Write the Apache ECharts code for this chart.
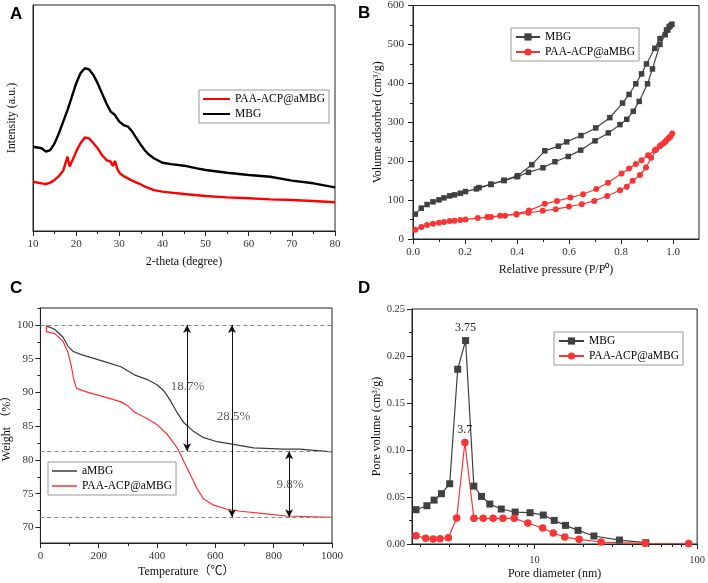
<!DOCTYPE html>
<html><head><meta charset="utf-8">
<script src="https://cdn.jsdelivr.net/npm/echarts@6/dist/echarts.min.js"></script>
<style>html,body{margin:0;padding:0;background:#fff}#c{width:708px;height:583px}</style>
</head><body><div id="c"></div>
<script>
// ---------- Panel A : XRD ----------
const aMbgX = [10,12,13,14,15,16,17,18,19,20,21,22,23,24,25,26,27,28,29,30,31,32,33,34,35,36,37,38,40,42,45,48,50,55,60,65,70,75,80];
const aMbgY = [37.3,36.6,35.1,35.8,38.8,43.2,48.4,53.5,59.4,65.3,69.8,72.0,71.5,69.0,65.3,60.9,56.5,52.8,51.3,48.4,46.9,46.2,44.0,41.0,38.1,35.5,33.6,32.2,30.2,29.6,28.9,27.7,27.0,25.8,24.8,24.0,22.3,21.1,19.3];
const aPaaX = [10,12,13,14,15,16,17,18,18.5,19,20,21,22,23,24,25,26,27,28,28.5,29,29.5,30,31,32,33,34,35,36,38,40,42,45,50,55,60,65,70,75,80];
const aPaaY = [21.8,21.1,20.8,21.4,22.6,24.3,26.7,32.9,28.5,30.7,35.1,38.8,41.4,41.0,38.8,36.6,33.6,31.4,30.7,28.8,31.0,27.7,25.8,24.3,23.3,22.3,21.4,20.6,19.6,18.1,17.4,17.0,16.4,15.5,14.9,14.5,14.0,13.7,13.3,12.7];
const aXTicks = [10,20,30,40,50,60,70,80];
const aXMinor = [15,25,35,45,55,65,75];

// ---------- Panel B : N2 isotherms ----------
const bMbgP = [0.009,0.032,0.054,0.077,0.100,0.119,0.141,0.160,0.182,0.202,0.244,0.300,0.350,0.400,0.444,0.500,0.546,0.597,0.645,0.700,0.751,0.796,0.822,0.847,0.870,0.902,0.921,0.950,0.970,0.980,0.990,0.996,
               0.985,0.975,0.950,0.930,0.898,0.879,0.857,0.831,0.806,0.757,0.703,0.646,0.591,0.559,0.507,0.457,0.403,0.350,0.300,0.254];
const bMbgV = [63.9,79.3,88.6,95.5,100.6,105.7,110.8,113.4,117.6,121.9,128.7,140.0,150.0,160.0,171.3,183.0,198.5,212.0,228.3,252.2,272.6,293.9,307.5,328.0,353.6,398.8,437.0,500.0,525.0,537.0,548.0,552.0,
               545.0,537.0,515.0,490.0,449.9,424.3,398.8,371.4,349.3,311.8,285.4,265.8,249.6,238.5,226.6,190.9,162.8,151.0,141.0,132.1];
const bPaaP = [0.009,0.032,0.054,0.077,0.100,0.119,0.141,0.160,0.182,0.202,0.249,0.300,0.354,0.398,0.444,0.499,0.549,0.600,0.649,0.697,0.747,0.796,0.822,0.845,0.873,0.896,0.916,0.935,0.953,0.970,0.982,0.991,0.997,
               0.985,0.974,0.962,0.949,0.930,0.904,0.879,0.857,0.831,0.802,0.750,0.705,0.654,0.605,0.554,0.507,0.446,0.398,0.335,0.286];
const bPaaV = [23.9,30.7,35.8,39.2,41.8,43.5,46.0,46.9,48.6,50.3,53.7,56.3,59.7,63.1,67.5,72.3,76.6,83.4,89.3,97.9,110.6,125.1,134.5,149.8,164.3,183.9,208.6,229.9,241.0,249.5,258.0,264.0,270.8,
               260.5,253.7,245.2,238.4,228.2,215.4,202.6,192.4,181.3,168.6,144.7,128.5,114.9,106.4,97.9,90.3,73.0,64.5,59.7,56.3];
const bXTicks = [0,0.2,0.4,0.6,0.8,1.0];
const bXMinor = [0.1,0.3,0.5,0.7,0.9];
const bYTicks = [0,100,200,300,400,500,600];
const bYMinor = [50,150,250,350,450,550];

// ---------- Panel C : TGA ----------
const cMbgT = [20,49,77,94,111,140,163,231,276,322,367,401,424,447,469,492,526,560,606,662,731,833,890,1000];
const cMbgW = [99.85,99.35,98.2,96.9,96.1,95.6,95.3,94.4,93.8,92.6,91.9,91.1,90.2,88.7,87.0,85.5,84.2,83.3,82.7,82.3,81.8,81.6,81.6,81.2];
const cPaaT = [20,21,49,77,94,106,115,124,163,231,276,300,322,367,401,435,469,503,538,560,594,640,685,776,844,1000];
const cPaaW = [99.9,99.0,98.7,97.6,96.0,93.9,91.8,90.6,90.0,89.2,88.6,88.0,87.1,86.1,85.2,83.8,81.8,78.8,75.7,74.2,73.3,72.7,72.4,72.0,71.7,71.5];
const cRefLevels = [100,81.3,71.5];
const cArrowX = [503,657,853];
const cArrowFrom = [100,100,81.3];
const cArrowTo = [81.3,71.5,71.5];
const cLabelText = ['18.7%','28.5%','9.8%'];
const cLabelX = [505,662,856];
const cLabelY = [90.9,86.4,76.4];
const cXTicks = [0,200,400,600,800,1000];
const cXMinor = [100,300,500,700,900];
const cYTicks = [70,75,80,85,90,95,100];
const cYMinor = [67.5,72.5,77.5,82.5,87.5,92.5,97.5,102.5];

// ---------- Panel D : pore size distribution ----------
const dMbgD = [1.873,2.185,2.42,2.685,3.018,3.378,3.778,4.246,4.73,5.32,6.26,7.62,9.41,11.34,13.24,15.53,18.55,23.22,33.3,48.4];
const dMbgV = [0.0365,0.0407,0.0467,0.0535,0.0641,0.1859,0.2164,0.0616,0.0506,0.0425,0.0372,0.0340,0.0333,0.0308,0.0251,0.0198,0.0145,0.0085,0.0042,0.0014];
const dPaaD = [1.873,2.15,2.39,2.63,2.96,3.33,3.74,4.25,4.85,5.58,6.41,7.52,9.11,11.24,13.06,15.37,18.82,25.7,47.9,88.8];
const dPaaV = [0.0089,0.0060,0.0053,0.0057,0.0067,0.0276,0.108,0.0273,0.0273,0.0273,0.0273,0.0273,0.0223,0.0170,0.0117,0.0074,0.0050,0.0021,0.0007,0.0004];
const dPeakLabels = ['3.75','3.7'];
const dXTicks = [10,100];
const dXMinor = [2,3,4,5,6,7,8,9,20,30,40,50,60,70,80,90];
const dYTicks = [0,0.05,0.10,0.15,0.20,0.25];
const dYMinor = [0.025,0.075,0.125,0.175,0.225];

// ---------- styling helpers ----------
const SERIF = 'Liberation Serif, Times New Roman, serif';
const SERIF_CJK = 'Liberation Serif, Noto Sans CJK SC, serif';
const AX = '#222';
const GRAY = '#404040', RED = '#f73535';
const zip = (xs, ys) => xs.map((x, i) => [x, ys[i]]);

function mainAxis(o) {
  return {
    type: 'value', gridIndex: o.grid, min: o.min, max: o.max, position: o.pos,
    axisLine: { show: o.line !== false, onZero: false, lineStyle: { color: AX, width: 1 } },
    axisTick: { show: true, inside: false, length: 5, customValues: o.majors, lineStyle: { color: AX } },
    axisLabel: { show: true, customValues: o.majors, formatter: o.fmt, fontFamily: SERIF, fontSize: o.fs || 11, color: '#333', margin: o.margin },
    splitLine: { show: false }, minorTick: { show: false },
    name: o.name, nameLocation: 'middle', nameGap: o.gap,
    nameTextStyle: { fontFamily: o.nameFont || SERIF, fontSize: 12, color: '#111' }
  };
}
function minorAxis(o) {
  return {
    type: 'value', gridIndex: o.grid, min: o.min, max: o.max, position: o.pos,
    axisLine: { show: false, onZero: false },
    axisTick: { show: true, inside: false, length: 3, customValues: o.minors, lineStyle: { color: AX } },
    axisLabel: { show: false }, splitLine: { show: false }
  };
}
const gridBox = (l, t, w, h) => ({ left: l, top: t, width: w, height: h, show: true, borderColor: AX, borderWidth: 1, backgroundColor: 'transparent', containLabel: false });
const legendBase = (l, t, names, extra) => Object.assign({
  left: l, top: t, orient: 'vertical', data: names, selectedMode: false,
  formatter: n => n.split('#')[0], padding: [3, 4, 3, 4], itemGap: 3,
  borderColor: '#999', borderWidth: 1, backgroundColor: '#fff',
  textStyle: { fontFamily: SERIF, fontSize: 11.5, color: '#000' }
}, extra);

const dLogMin = 1.77;

const xAxis = [
  mainAxis({ grid: 0, min: 10, max: 80, pos: 'bottom', majors: aXTicks, fmt: v => String(v), margin: 8, name: '2-theta (degree)', gap: 25 }),
  minorAxis({ grid: 0, min: 10, max: 80, pos: 'bottom', minors: aXMinor }),
  mainAxis({ grid: 1, min: 0, max: 1.1, pos: 'bottom', majors: bXTicks, fmt: v => v.toFixed(1), margin: 8, name: 'Relative pressure (P/P\u2070)', gap: 25 }),
  minorAxis({ grid: 1, min: 0, max: 1.1, pos: 'bottom', minors: bXMinor }),
  mainAxis({ grid: 2, min: 0, max: 1000, pos: 'bottom', majors: cXTicks, fmt: v => String(v), margin: 8, name: 'Temperature（℃）', gap: 23, nameFont: SERIF_CJK }),
  minorAxis({ grid: 2, min: 0, max: 1000, pos: 'bottom', minors: cXMinor }),
  { type: 'log', logBase: 10, gridIndex: 3, min: dLogMin, max: 100, position: 'bottom',
    axisLine: { show: true, onZero: false, lineStyle: { color: AX, width: 1 } },
    axisTick: { show: false }, axisLabel: { show: false }, splitLine: { show: false },
    minorTick: { show: false }, minorSplitLine: { show: false } },
  Object.assign(mainAxis({ grid: 3, min: Math.log10(dLogMin), max: 2, pos: 'bottom', majors: dXTicks.map(Math.log10),
    fmt: v => String(Math.round(Math.pow(10, v))), margin: 11, fs: 10.5, name: 'Pore diameter (nm)', gap: 24, line: false })),
  minorAxis({ grid: 3, min: Math.log10(dLogMin), max: 2, pos: 'bottom', minors: dXMinor.map(Math.log10) })
];

const yAxis = [
  { type: 'value', gridIndex: 0, min: 0, max: 100, position: 'left',
    axisLine: { show: true, onZero: false, lineStyle: { color: AX, width: 1 } },
    axisTick: { show: false }, axisLabel: { show: false }, splitLine: { show: false },
    name: 'Intensity (a.u.)', nameLocation: 'middle', nameGap: 15,
    nameTextStyle: { fontFamily: SERIF, fontSize: 12, color: '#111' } },
  mainAxis({ grid: 1, min: 0, max: 600, pos: 'left', majors: bYTicks, fmt: v => String(v), margin: 9, name: 'Volume adsorbed (cm\u00B3/g)', gap: 25 }),
  minorAxis({ grid: 1, min: 0, max: 600, pos: 'left', minors: bYMinor }),
  mainAxis({ grid: 2, min: 67.7, max: 102.5, pos: 'left', majors: cYTicks, fmt: v => String(v), margin: 7, name: 'Weight （%）', gap: 24, nameFont: SERIF_CJK }),
  minorAxis({ grid: 2, min: 67.7, max: 102.5, pos: 'left', minors: cYMinor }),
  mainAxis({ grid: 3, min: 0, max: 0.25, pos: 'left', majors: dYTicks, fmt: v => v.toFixed(2), margin: 7, fs: 10.5, name: 'Pore volume (cm\u00B3/g)', gap: 25 }),
  minorAxis({ grid: 3, min: 0, max: 0.25, pos: 'left', minors: dYMinor })
];

function peakData(xs, ys, label) {
  const iMax = ys.indexOf(Math.max(...ys));
  return xs.map((x, i) => i === iMax
    ? { value: [x, ys[i]], label: { show: true, position: 'top', distance: 3, formatter: label, fontFamily: SERIF, fontSize: 12, color: '#222' } }
    : [x, ys[i]]);
}

const series = [
  // A
  { type: 'line', name: 'MBG#A', xAxisIndex: 0, yAxisIndex: 0, data: zip(aMbgX, aMbgY), symbol: 'none', color: '#000', lineStyle: { width: 2.4, color: '#000' } },
  { type: 'line', name: 'PAA-ACP@aMBG#A', xAxisIndex: 0, yAxisIndex: 0, data: zip(aPaaX, aPaaY), symbol: 'none', color: '#ff0000', lineStyle: { width: 2.4, color: '#ff0000' } },
  // B
  { type: 'line', name: 'MBG#B', xAxisIndex: 2, yAxisIndex: 1, data: zip(bMbgP, bMbgV), symbol: 'rect', symbolSize: 5.5, color: GRAY, lineStyle: { width: 1.2, color: GRAY }, itemStyle: { color: GRAY } },
  { type: 'line', name: 'PAA-ACP@aMBG#B', xAxisIndex: 2, yAxisIndex: 1, data: zip(bPaaP, bPaaV), symbol: 'circle', symbolSize: 6, color: RED, lineStyle: { width: 1.2, color: RED }, itemStyle: { color: RED } },
  // C
  { type: 'line', name: 'aMBG#C', xAxisIndex: 4, yAxisIndex: 3, data: zip(cMbgT, cMbgW), symbol: 'none', color: '#3a3a3a', lineStyle: { width: 1.2, color: '#3a3a3a' },
    markLine: { silent: true, symbol: 'none', label: { show: false }, lineStyle: { color: '#888', type: [4, 3], width: 1 },
      data: cRefLevels.map(v => ({ yAxis: v })) } },
  { type: 'line', name: 'PAA-ACP@aMBG#C', xAxisIndex: 4, yAxisIndex: 3, data: zip(cPaaT, cPaaW), symbol: 'none', color: '#ff3030', lineStyle: { width: 1.2, color: '#ff3030' },
    markLine: { silent: true, symbol: ['arrow', 'arrow'], symbolSize: [6, 8], label: { show: false }, lineStyle: { color: '#111', type: 'solid', width: 1 },
      data: cArrowX.map((x, i) => [{ coord: [x, cArrowFrom[i]] }, { coord: [x, cArrowTo[i]] }]) } },
  { type: 'scatter', name: 'annot', xAxisIndex: 4, yAxisIndex: 3, symbolSize: 0, z: 5,
    data: cLabelX.map((x, i) => [x, cLabelY[i], cLabelText[i]]),
    label: { show: true, position: 'inside', formatter: p => p.value[2], fontFamily: SERIF, fontSize: 13, color: '#333' } },
  // D
  { type: 'line', name: 'MBG#D', xAxisIndex: 6, yAxisIndex: 5, data: peakData(dMbgD, dMbgV, dPeakLabels[0]), symbol: 'rect', symbolSize: 7, color: GRAY, lineStyle: { width: 1.2, color: GRAY }, itemStyle: { color: GRAY } },
  { type: 'line', name: 'PAA-ACP@aMBG#D', xAxisIndex: 6, yAxisIndex: 5, data: peakData(dPaaD, dPaaV, dPeakLabels[1]), symbol: 'circle', symbolSize: 7.5, color: RED, lineStyle: { width: 1.2, color: RED }, itemStyle: { color: RED } }
];

const option = {
  animation: false,
  backgroundColor: '#fff',
  grid: [
    gridBox(33, 5, 302, 226),
    gridBox(413, 5, 286, 234),
    gridBox(39, 308, 293, 235),
    gridBox(412, 309, 287, 235)
  ],
  xAxis, yAxis, series,
  legend: [
    legendBase(199, 90, ['PAA-ACP@aMBG#A', 'MBG#A'], { icon: 'rect', itemWidth: 27, itemHeight: 2 }),
    legendBase(511, 28, ['MBG#B', 'PAA-ACP@aMBG#B'], { itemWidth: 24, itemHeight: 9 }),
    legendBase(48, 462, ['aMBG#C', 'PAA-ACP@aMBG#C'], { icon: 'rect', itemWidth: 25, itemHeight: 1.5 }),
    legendBase(554, 332, ['MBG#D', 'PAA-ACP@aMBG#D'], { itemWidth: 25, itemHeight: 9 })
  ],
  graphic: [
    { type: 'text', left: 10, top: 6, style: { text: 'A', font: 'bold 17px Liberation Sans, Arial, sans-serif', fill: '#000' } },
    { type: 'text', left: 358, top: 5, style: { text: 'B', font: 'bold 17px Liberation Sans, Arial, sans-serif', fill: '#000' } },
    { type: 'text', left: 10, top: 280, style: { text: 'C', font: 'bold 17px Liberation Sans, Arial, sans-serif', fill: '#000' } },
    { type: 'text', left: 358, top: 280, style: { text: 'D', font: 'bold 17px Liberation Sans, Arial, sans-serif', fill: '#000' } }
  ]
};
const chart = echarts.init(document.getElementById('c'), null, { renderer: 'canvas' });
chart.setOption(option);
</script></body></html>
